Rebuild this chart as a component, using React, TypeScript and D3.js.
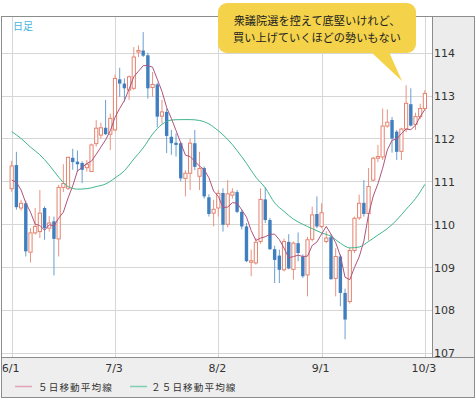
import React from "react";
import * as d3 from "d3";

const dates = [
  "6/1","6/2","6/5","6/6","6/7","6/8","6/9","6/12","6/13","6/14","6/15","6/16","6/19","6/20","6/21","6/22","6/23","6/26","6/27","6/28","6/29","6/30",
  "7/3","7/4","7/5","7/6","7/7","7/10","7/11","7/12","7/13","7/14","7/17","7/18","7/19","7/20","7/21","7/24","7/25","7/26","7/27","7/28","7/31",
  "8/1","8/2","8/3","8/4","8/7","8/8","8/9","8/10","8/11","8/14","8/15","8/16","8/17","8/18","8/21","8/22","8/23","8/24","8/25","8/28","8/29","8/30","8/31",
  "9/1","9/4","9/5","9/6","9/7","9/8","9/11","9/12","9/13","9/14","9/15","9/18","9/19","9/20","9/21","9/22","9/25","9/26","9/27","9/28","9/29",
  "10/2","10/3",
];
const open = [
  110.83,111.38,110.38,110.49,109.35,109.80,109.83,110.38,109.91,110.07,109.66,110.86,110.84,111.55,111.46,111.43,111.32,111.23,111.88,112.08,112.25,112.10,
  112.20,113.38,113.28,113.13,113.17,114.02,114.05,113.94,113.19,113.26,112.52,112.62,112.04,111.90,111.89,111.07,111.19,111.89,111.12,111.31,110.63,
  110.26,110.38,110.73,110.00,110.68,110.75,110.29,109.95,109.12,109.10,109.60,110.58,110.10,109.42,109.27,108.94,109.59,108.95,109.56,109.25,108.82,109.65,110.24,
  109.95,109.60,109.70,108.74,109.25,108.40,108.20,109.39,110.15,110.50,110.25,111.03,111.54,111.57,112.29,112.43,112.16,111.70,112.22,112.80,112.33,
  112.51,112.70,
];
const high = [
  111.48,111.69,110.57,110.55,109.91,110.38,110.80,110.42,110.19,110.18,110.92,111.40,111.58,111.76,111.72,111.47,111.50,111.88,112.43,112.37,112.90,112.58,
  113.49,113.65,113.40,113.47,114.13,114.17,114.48,114.00,113.55,113.30,112.90,112.70,112.20,112.12,111.92,111.26,112.00,112.20,111.69,111.35,110.70,
  110.57,110.80,110.84,111.03,110.84,110.80,110.35,110.03,109.41,109.68,110.84,110.86,110.15,109.50,109.41,109.67,109.77,109.60,109.81,109.30,109.71,110.41,110.65,
  110.49,109.84,109.77,109.44,109.30,108.50,109.45,110.18,110.69,111.03,111.31,111.57,111.85,112.70,112.68,112.50,112.20,112.25,113.24,113.17,112.60,
  112.81,113.13,
];
const low = [
  110.76,110.34,110.32,109.25,109.11,109.76,109.68,109.64,109.83,108.81,109.25,110.75,110.80,111.27,111.23,110.96,111.23,111.22,111.81,112.00,112.08,111.73,
  112.17,112.97,112.86,112.90,113.13,113.90,113.90,112.93,112.97,112.26,112.35,111.66,111.62,111.58,111.00,110.65,110.80,111.26,110.80,110.60,110.18,
  109.95,110.18,109.83,109.93,110.60,110.26,109.88,109.12,108.79,109.06,109.55,110.03,109.40,108.63,108.63,108.90,108.95,108.71,109.14,108.75,108.32,109.60,109.91,
  109.91,109.56,108.71,108.32,108.09,107.32,108.15,109.33,110.10,110.18,109.62,111.00,111.45,111.50,112.25,111.67,111.50,111.50,112.15,112.28,112.20,
  112.45,112.65,
];
const close = [
  111.36,110.40,110.49,109.37,109.80,109.95,110.26,109.91,110.03,109.66,110.86,110.95,111.56,111.45,111.40,111.27,111.40,111.85,112.24,112.25,112.10,112.47,
  113.40,113.28,113.17,113.44,113.90,114.05,113.93,113.17,113.26,112.51,112.62,112.06,111.89,111.85,111.07,111.19,111.89,111.34,111.30,110.65,110.24,
  110.35,110.72,109.99,110.71,110.75,110.29,109.95,109.14,109.15,109.58,110.58,110.10,109.42,109.17,108.94,109.60,108.97,109.56,109.33,108.79,109.64,110.22,109.95,
  110.27,109.68,108.72,109.25,108.40,107.78,109.39,110.14,110.49,110.24,110.88,111.54,111.58,112.29,112.38,112.00,111.69,112.22,112.82,112.30,112.51,
  112.70,113.05,
];
// 5-day MA values for the first four days (need closes before 6/1)
const ma5Lead = [111.03, 110.98, 110.8, 110.5];
const ma25Idx = [0,2,4,6,8,10,12,14,16,18,20,22,24,26,28,30,32,34,36,38,40,42,44,46,48,50,52,54,56,58,60,62,64,66,68,70,72,74,76,78,80,82,84,86,88];
const ma25Val = [112.16,112.0,111.8,111.62,111.38,111.1,110.88,110.82,110.83,110.88,110.94,111.08,111.25,111.52,111.78,112.1,112.33,112.43,112.44,112.44,112.42,112.34,112.18,111.98,111.72,111.42,111.1,110.85,110.5,110.3,110.12,110.0,109.9,109.8,109.72,109.56,109.45,109.47,109.6,109.75,109.9,110.1,110.35,110.6,110.93];

const yTicks = [107, 108, 109, 110, 111, 112, 113, 114];
const xTickLabels = ["6/1", "7/3", "8/2", "9/1", "10/3"];
const periodLabel = "日足";
const calloutLines = ["衆議院選を控えて底堅いけれど、", "買い上げていくほどの勢いもない"];
const legendLabels = ["５日移動平均線", "２５日移動平均線"];

const W = 476, H = 398;
const PL = 2, PR = 432, PT = 17, PB = 357;
const UP = "#e5826d", UPW = "#e99482", DN = "#3f7fbf", DNW = "#6a9fd0";
const MA5C = "#b0537c", MA25C = "#3fb58c";

export default function App() {
  const x = d3.scalePoint<string>().domain(dates).range([11.7, 424.9]);
  const y = d3.scaleLinear().domain([106.907, 114.832]).range([PB, PT]);
  const xi = (i: number) => x(dates[i]) as number;

  const ma5 = close.map((_, i) =>
    i < ma5Lead.length ? ma5Lead[i] : d3.mean(close.slice(i - 4, i + 1)) as number
  );
  const lineGen = d3.line<number>().x((_, i) => xi(i)).y((d) => y(d));
  const ma5Path = lineGen(ma5) || "";
  const ma25Path =
    d3.line<number>()
      .x((_, k) => xi(ma25Idx[k]))
      .y((d) => y(d))
      .curve(d3.curveMonotoneX)(ma25Val) || "";

  const cw = 3.4;
  const cjk = "'Noto Sans CJK JP', 'Noto Sans', sans-serif";
  const num = "'DejaVu Sans', Verdana, sans-serif";

  return (
    <svg width={W} height={H} style={{ position: "absolute", left: 0, top: 0, background: "#fff" }}>
      <defs>
        <clipPath id="plotclip">
          <rect x={PL} y={PT} width={PR - PL} height={PB - PT} />
        </clipPath>
        <clipPath id="frameclip">
          <rect x={PL + 0.5} y={PB} width={W - PL} height={H - PB} />
        </clipPath>
      </defs>
      {/* panels */}
      <rect x={PR} y={PT} width={W - 1 - PR} height={PB - PT} fill="#ececec" />
      <rect x={PL} y={PB} width={W - 1 - PL} height={H - 1 - PB} fill="#eeeeee" />
      {/* grid */}
      {yTicks.map((t) => {
        const yy = Math.round(y(t)) + 0.5;
        return <line key={"gy" + t} x1={PL} x2={PR} y1={yy} y2={yy} stroke="#d6d6d6" strokeWidth={1} />;
      })}
      {xTickLabels.map((d) => {
        const xx = Math.round(x(d) as number) + 0.5;
        return <line key={"gx" + d} x1={xx} x2={xx} y1={PT} y2={PB} stroke="#d6d6d6" strokeWidth={1} />;
      })}
      <g clipPath="url(#plotclip)">
        {dates.map((d, i) => {
          const cx = xi(i);
          const o = open[i], c = close[i], h = high[i], l = low[i];
          const isUp = c >= o;
          const top = y(Math.max(o, c)), bot = y(Math.min(o, c));
          if (isUp) {
            const bh = Math.max(bot - top, 1.5);
            return (
              <g key={d}>
                <line x1={cx} x2={cx} y1={y(h)} y2={top} stroke={UPW} strokeWidth={1} />
                <line x1={cx} x2={cx} y1={top + bh} y2={y(l)} stroke={UPW} strokeWidth={1} />
                <rect x={cx - 1.6} y={top} width={3.2} height={bh} fill="#fff" stroke={UP} strokeWidth={1} />
              </g>
            );
          }
          return (
            <g key={d}>
              <line x1={cx} x2={cx} y1={y(h)} y2={y(l)} stroke={DNW} strokeWidth={1} />
              <rect x={cx - cw / 2} y={top} width={cw} height={Math.max(bot - top, 1.5)} fill={DN} />
            </g>
          );
        })}
        <path d={ma25Path} fill="none" stroke={MA25C} strokeWidth={1} />
        <path d={ma5Path} fill="none" stroke={MA5C} strokeWidth={1} />
      </g>
      {/* axis labels */}
      {yTicks.map((t) => (
        <text key={"yl" + t} x={434} y={y(t) + 4.3} fontSize={11} fontFamily={num} fill="#333">{t}</text>
      ))}
      <g clipPath="url(#frameclip)">
        {xTickLabels.map((d) => (
          <text key={"xl" + d} x={(x(d) as number) - 1} y={372} fontSize={11} fontFamily={num} fill="#333" textAnchor="middle">{d}</text>
        ))}
      </g>
      {/* frame */}
      <rect x={PL - 0.5} y={PT - 0.5} width={W - 1 - PL} height={H - PT} fill="none" stroke="#8c8c8c" strokeWidth={1} />
      <line x1={PR + 0.5} x2={PR + 0.5} y1={PT} y2={PB} stroke="#8c8c8c" />
      <line x1={PL} x2={W - 1} y1={PB + 0.5} y2={PB + 0.5} stroke="#8c8c8c" />
      {/* legend */}
      <line x1={15} x2={32} y1={386.5} y2={386.5} stroke="#e3a3b6" strokeWidth={1.5} />
      <text x={38} y={390.5} fontSize={9.6} letterSpacing={1.1} fontFamily={cjk} fill="#333">{legendLabels[0]}</text>
      <line x1={130} x2={147} y1={386.5} y2={386.5} stroke="#7fcfb0" strokeWidth={1.5} />
      <text x={151} y={390.5} fontSize={9.6} letterSpacing={1.1} fontFamily={cjk} fill="#333">{legendLabels[1]}</text>
      {/* period label */}
      <text x={13} y={30} fontSize={10} fontFamily={cjk} fill="#45b4e0">{periodLabel}</text>
      {/* callout */}
      <rect x={218} y={3} width={198} height={50} rx={9} ry={9} fill="#f4d24a" />
      <path d="M371,52 L389,52 L402,81 Z" fill="#f4d24a" />
      {calloutLines.map((s, k) => (
        <text key={"c" + k} x={317} y={24.5 + k * 17} fontSize={11.2} fontFamily={cjk} fill="#222" textAnchor="middle">{s}</text>
      ))}
    </svg>
  );
}
